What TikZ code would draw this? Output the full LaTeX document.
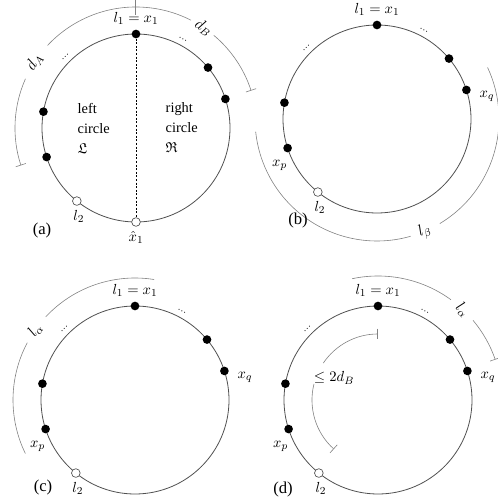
\documentclass[tikz,border=0pt]{standalone}
\usepackage{amssymb}
\usepackage{amsmath}
\usepackage{fontspec}
\setmainfont{Liberation Serif}
\usepackage{tikz}
\usetikzlibrary{positioning,arrows.meta}
\definecolor{ringgray}{RGB}{80,80,80}
\definecolor{arcgray}{RGB}{130,130,130}

\begin{document}
\begin{tikzpicture}[x=0.75pt, y=0.75pt,
  every node/.style={font=\fontsize{10.8}{15}\selectfont},
  ring/.style={draw=ringgray, line width=0.6pt},
  pt/.style={circle, fill=black, inner sep=0pt, minimum size=6.5pt},
  hollow/.style={circle, draw=ringgray, fill=white, inner sep=0pt, minimum size=6.5pt, line width=0.5pt},
  span/.style={draw=arcgray, line width=0.45pt},
  spanlabel/.style={inner sep=0.5pt, font=\fontsize{11.5}{14}\selectfont},
  guide/.style={draw=black, line width=0.5pt, dash pattern=on 1.5pt off 1.2pt},
  dots/.style={inner sep=0pt, font=\scriptsize},
  tag/.style={font=\fontsize{12.5}{14}\selectfont}
]
  \useasboundingbox (0,0) rectangle (498,504);

  % (a)
  \begin{scope}[shift={(136,376)}]
    \draw[ring] (0,0) circle (94);
    \foreach \ang [count=\i] in {90,40,18,170,198}
      \node[pt] (a\i) at (\ang:94) {};
    \node[hollow] (a6) at (231:94) {};
    \node[hollow] (a7) at (270:94) {};
    \draw[guide] (a1) -- (a7);
    \node[above=0pt of a1] (a-top) {$l_1 = x_1$};
    \node[dots, rotate=45] (a-dl) at (135:100) {\ldots};
    \node[dots, rotate=-28] (a-dr) at (62:100) {\ldots};
    \node[below=0pt of a6, xshift=1.5pt] (a-l2) {$l_2$};
    \node[below=0pt of a7] (a-x1) {$\hat{x}_1$};
    \node[align=left, anchor=west] (a-left) at (-63,0) {left\\circle\\$\mathfrak{L}$};
    \node[align=left, anchor=west] (a-right) at (25,0) {right\\circle\\$\mathfrak{R}$};
    \draw[span, {Bar[width=12pt]}-] (90:121) arc[start angle=90, end angle=137, radius=121];
    \draw[span, -{Bar[width=8pt]}] (156:121) arc[start angle=156, end angle=198, radius=121];
    \node[spanlabel, rotate=57] (a-dA) at (147:121) {$d_A$};
    \draw[span] (90:121) arc[start angle=90, end angle=63, radius=121];
    \draw[span, -{Bar[width=8pt]}] (50:121) arc[start angle=50, end angle=18, radius=121];
    \node[spanlabel, rotate=-34] (a-dB) at (56:121) {$d_B$};
  \end{scope}
  \node[tag] (a-tag) at (42,274) {(a)};

  % (b)
  \begin{scope}[shift={(377,385)}]
    \draw[ring] (0,0) circle (94);
    \foreach \ang [count=\i] in {90,40,18,170,198}
      \node[pt] (b\i) at (\ang:94) {};
    \node[hollow] (b6) at (231:94) {};
    \node[above=0pt of b1] (b-top) {$l_1 = x_1$};
    \node[dots, rotate=45] (b-dl) at (135:100) {\ldots};
    \node[dots, rotate=-28] (b-dr) at (62:100) {\ldots};
    \node[below=0pt of b6, xshift=1.5pt] (b-l2) {$l_2$};
    \node[right=3pt of b3, yshift=-5pt] (b-xq) {$x_q$};
    \node[below=2pt of b5, xshift=-6pt] (b-xp) {$x_p$};
    \draw[span] (25:122) arc[start angle=25, end angle=-59, radius=122];
    \draw[span] (-74:122) arc[start angle=-74, end angle=-174, radius=122];
    \node[spanlabel, rotate=23] (b-lb) at (-67:122) {$l_\beta$};
  \end{scope}
  \node[tag] (b-tag) at (298,284) {(b)};

  % (c)
  \begin{scope}[shift={(135,104)}]
    \draw[ring] (0,0) circle (94);
    \foreach \ang [count=\i] in {90,40,18,170,198}
      \node[pt] (c\i) at (\ang:94) {};
    \node[hollow] (c6) at (231:94) {};
    \node[above=0pt of c1] (c-top) {$l_1 = x_1$};
    \node[dots, rotate=45] (c-dl) at (135:100) {\ldots};
    \node[dots, rotate=-28] (c-dr) at (62:100) {\ldots};
    \node[below=0pt of c6, xshift=1.5pt] (c-l2) {$l_2$};
    \node[right=3pt of c3, yshift=-5pt] (c-xq) {$x_q$};
    \node[below=2pt of c5, xshift=-6pt] (c-xp) {$x_p$};
    \draw[span] (81:122) arc[start angle=81, end angle=137, radius=122];
    \draw[span] (152:122) arc[start angle=152, end angle=206, radius=122];
    \node[spanlabel, rotate=55] (c-la) at (145:122) {$l_\alpha$};
  \end{scope}
  \node[tag] (c-tag) at (43,17) {(c)};

  % (d)
  \begin{scope}[shift={(378,104)}]
    \draw[ring] (0,0) circle (94);
    \foreach \ang [count=\i] in {90,40,18,170,198}
      \node[pt] (d\i) at (\ang:94) {};
    \node[hollow] (d6) at (231:94) {};
    \node[above=0pt of d1] (d-top) {$l_1 = x_1$};
    \node[dots, rotate=45] (d-dl) at (135:100) {\ldots};
    \node[dots, rotate=-28] (d-dr) at (62:100) {\ldots};
    \node[below=0pt of d6, xshift=1.5pt] (d-l2) {$l_2$};
    \node[right=3pt of d3, yshift=-5pt] (d-xq) {$x_q$};
    \node[below=2pt of d5, xshift=-6pt] (d-xp) {$x_p$};
    \draw[span] (102:124) arc[start angle=102, end angle=54, radius=124];
    \draw[span, -{Bar[width=8pt]}] (40:124) arc[start angle=40, end angle=19, radius=124];
    \node[spanlabel, rotate=-43] (d-la) at (47:124) {$l_\alpha$};
    \draw[span, {Bar[width=8pt]}-] (90:66) arc[start angle=90, end angle=146, radius=66];
    \draw[span, -{Bar[width=8pt]}] (166:66) arc[start angle=166, end angle=228, radius=66];
    \node (d-bound) at (-44,22) {$\leq 2d_B$};
  \end{scope}
  \node[tag] (d-tag) at (283,15) {(d)};
\end{tikzpicture}
\end{document}
